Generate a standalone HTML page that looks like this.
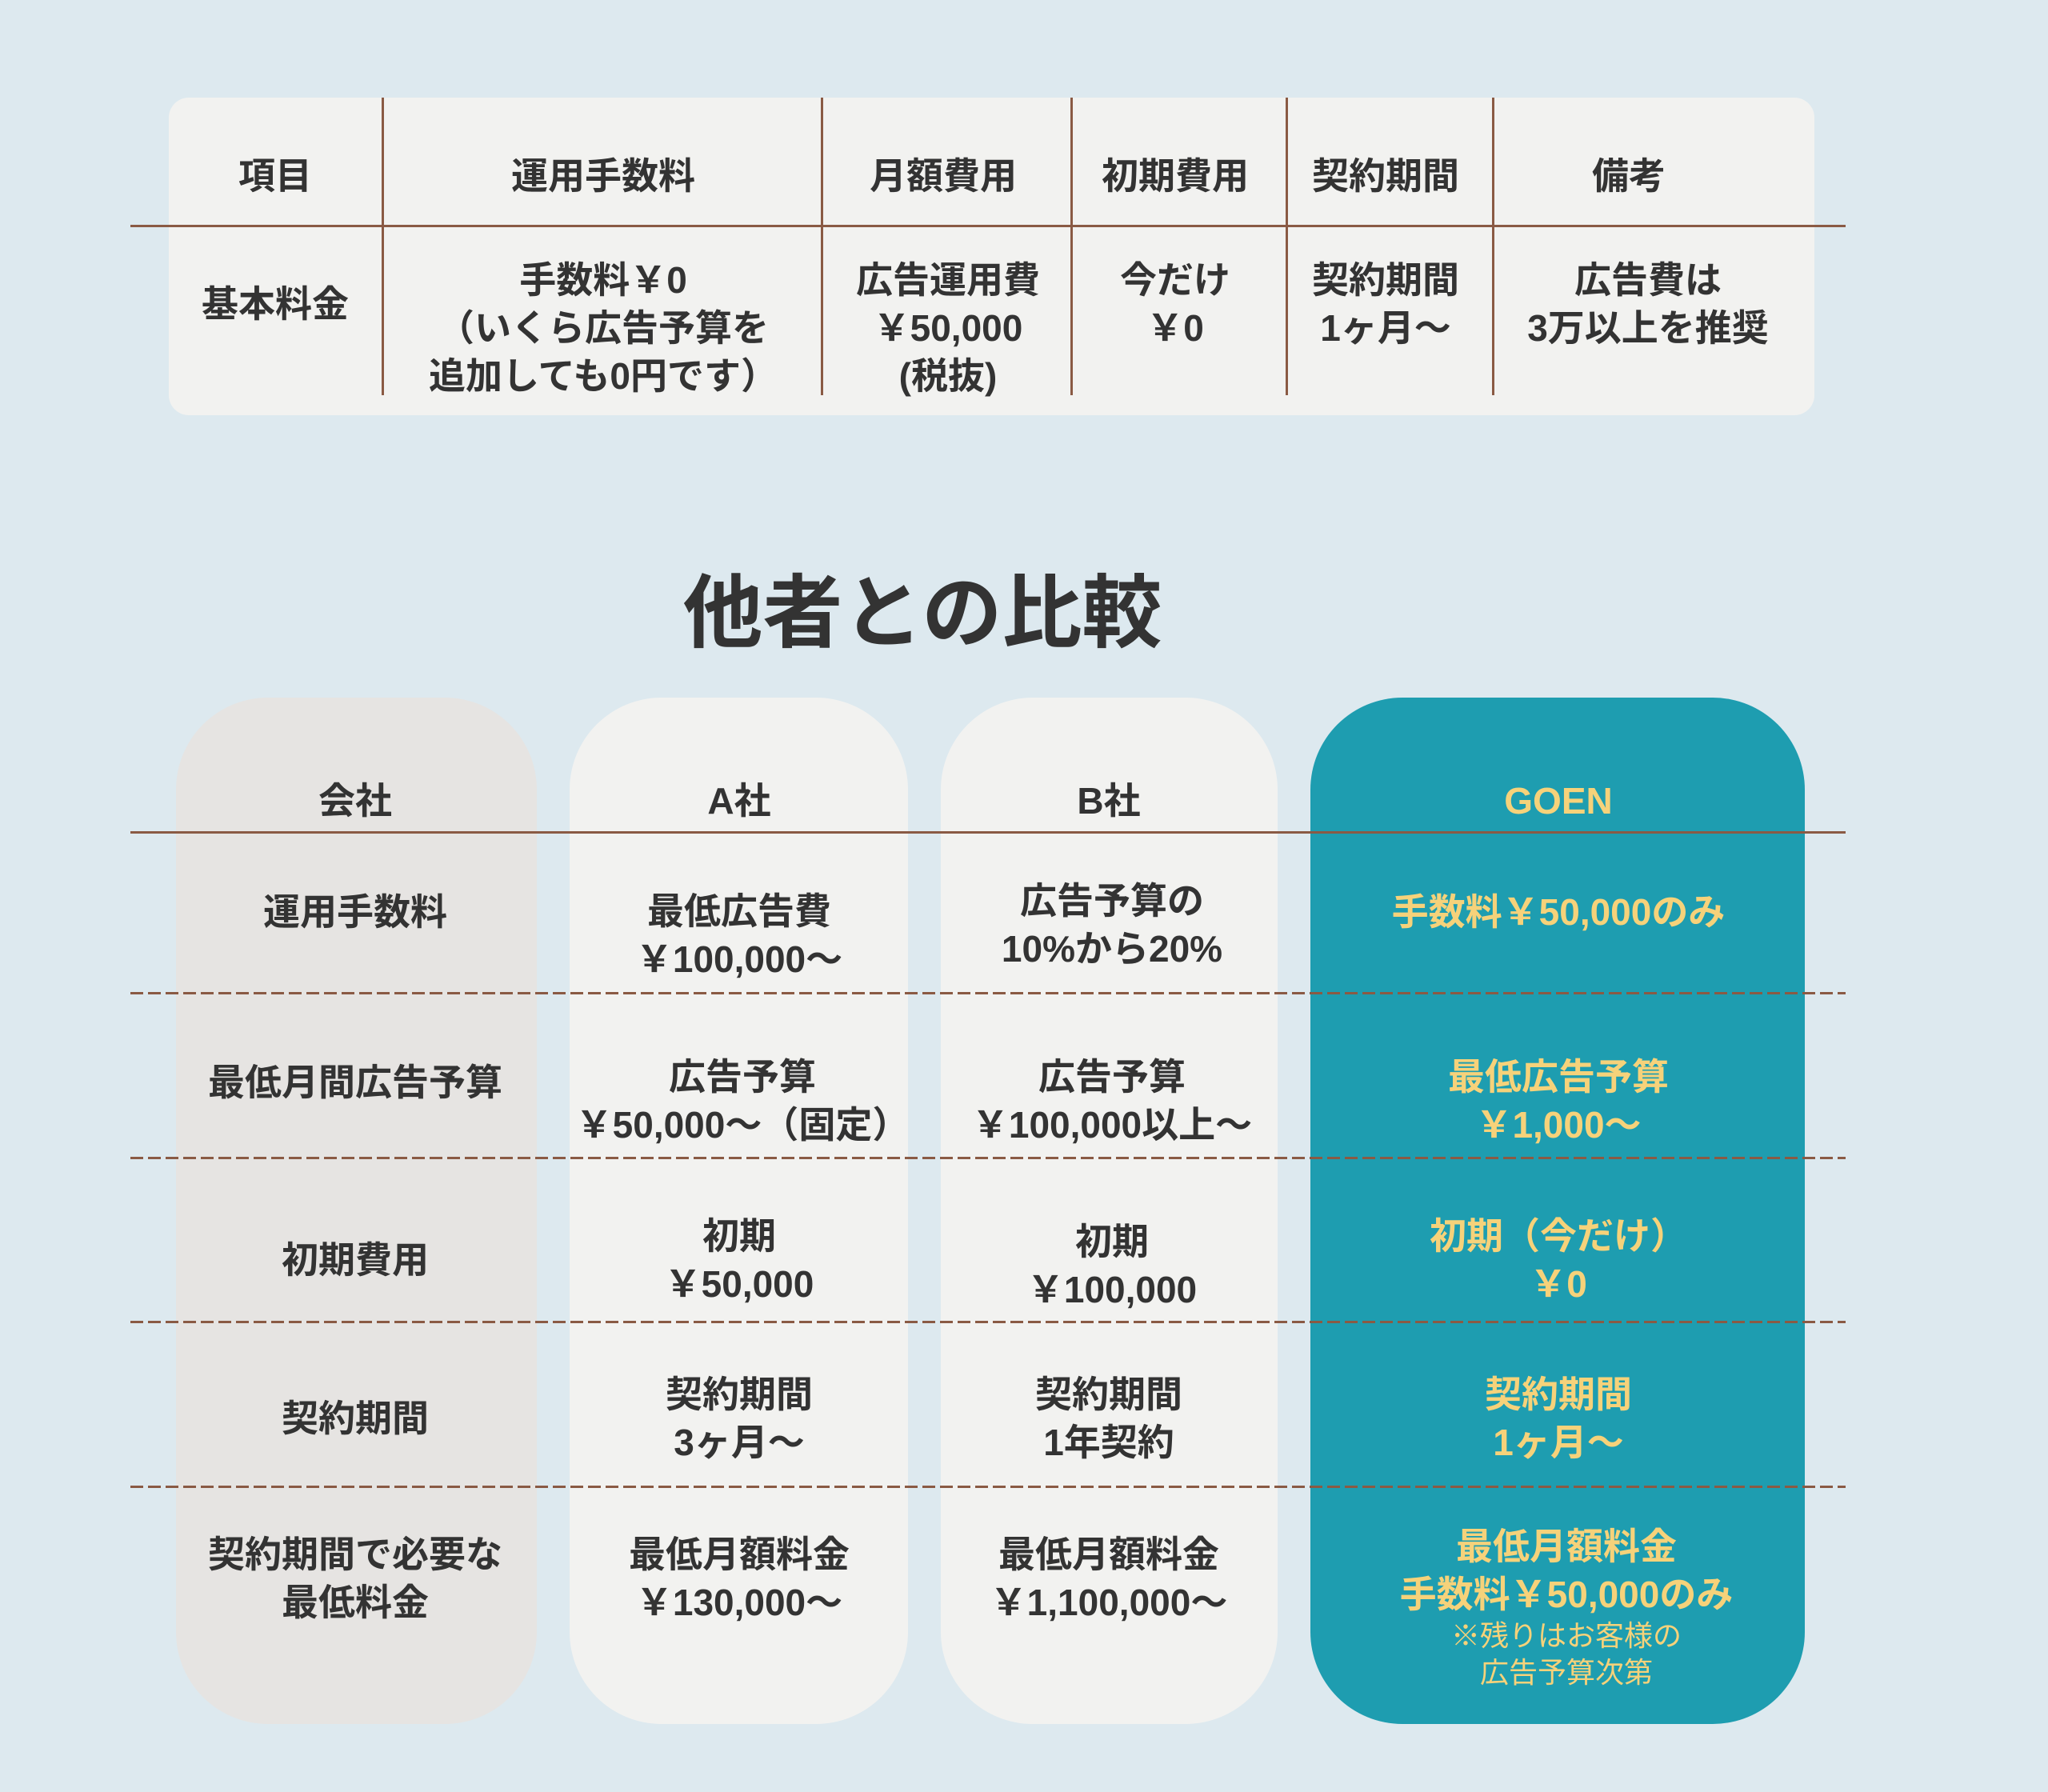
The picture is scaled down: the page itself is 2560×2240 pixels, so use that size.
<!DOCTYPE html>
<html><head><meta charset="utf-8"><style>
html,body{margin:0;padding:0}
body{width:2560px;height:2240px;background:#dde9ef;position:relative;overflow:hidden;font-family:"Liberation Sans","Noto Sans CJK JP",sans-serif;font-weight:bold;color:#333}
.a{position:absolute}
.t{position:absolute;transform:translate(-50%,-50%);text-align:center;white-space:nowrap;font-size:46px;line-height:60px}
.vl{position:absolute;width:3px;background:#8a5a44;top:122px;height:372px}
.dl{position:absolute;left:163px;width:2144px;height:3px;background:repeating-linear-gradient(90deg,#8a5a44 0 16px,transparent 16px 22px)}
.y{color:#f6d27a}
</style></head><body>
<div class="a" style="left:211px;top:122px;width:2057px;height:397px;background:#f2f2f0;border-radius:25px"></div>
<div class="a" style="left:163px;top:281px;width:2144px;height:3px;background:#8a5a44"></div>
<div class="vl" style="left:477px"></div><div class="vl" style="left:1026px"></div><div class="vl" style="left:1338px"></div><div class="vl" style="left:1607px"></div><div class="vl" style="left:1865px"></div>
<div class="t" style="left:344px;top:220px">項目</div>
<div class="t" style="left:754px;top:220px">運用手数料</div>
<div class="t" style="left:1179px;top:220px">月額費用</div>
<div class="t" style="left:1469px;top:220px">初期費用</div>
<div class="t" style="left:1732px;top:220px">契約期間</div>
<div class="t" style="left:2036px;top:220px">備考</div>
<div class="t" style="left:344px;top:380px">基本料金</div>
<div class="t" style="left:754px;top:410px">手数料￥0<br>（いくら広告予算を<br>追加しても0円です）</div>
<div class="t" style="left:1185px;top:410px">広告運用費<br>￥50,000<br>(税抜)</div>
<div class="t" style="left:1469px;top:380px">今だけ<br>￥0</div>
<div class="t" style="left:1732px;top:380px">契約期間<br>1ヶ月～</div>
<div class="t" style="left:2060px;top:380px">広告費は<br>3万以上を推奨</div>

<div class="t" style="left:1153px;top:767px;font-size:100px;line-height:120px">他者との比較</div>

<div class="a" style="left:220px;top:872px;width:451px;height:1283px;background:#e6e4e2;border-radius:115px"></div>
<div class="a" style="left:712px;top:872px;width:423px;height:1283px;background:#f2f2f0;border-radius:115px"></div>
<div class="a" style="left:1176px;top:872px;width:421px;height:1283px;background:#f2f2f0;border-radius:115px"></div>
<div class="a" style="left:1638px;top:872px;width:618px;height:1283px;background:#1e9db0;border-radius:115px"></div>
<div class="a" style="left:163px;top:1039px;width:2144px;height:3px;background:#8a5a44"></div>
<div class="dl" style="top:1240px"></div><div class="dl" style="top:1446px"></div><div class="dl" style="top:1651px"></div><div class="dl" style="top:1857px"></div>

<div class="t" style="left:444px;top:1001px">会社</div>
<div class="t" style="left:924px;top:1001px">A社</div>
<div class="t" style="left:1386px;top:1001px">B社</div>
<div class="t y" style="left:1948px;top:1001px">GOEN</div>

<div class="t" style="left:444px;top:1140px">運用手数料</div>
<div class="t" style="left:924px;top:1169px">最低広告費<br>￥100,000～</div>
<div class="t" style="left:1390px;top:1156px">広告予算の<br>10%から20%</div>
<div class="t y" style="left:1948px;top:1140px">手数料￥50,000のみ</div>

<div class="t" style="left:444px;top:1353px">最低月間広告予算</div>
<div class="t" style="left:928px;top:1376px">広告予算<br>￥50,000～（固定）</div>
<div class="t" style="left:1390px;top:1376px">広告予算<br>￥100,000以上～</div>
<div class="t y" style="left:1948px;top:1376px">最低広告予算<br>￥1,000～</div>

<div class="t" style="left:444px;top:1575px">初期費用</div>
<div class="t" style="left:924px;top:1575px">初期<br>￥50,000</div>
<div class="t" style="left:1390px;top:1582px">初期<br>￥100,000</div>
<div class="t y" style="left:1948px;top:1575px">初期（今だけ）<br>￥0</div>

<div class="t" style="left:444px;top:1773px">契約期間</div>
<div class="t" style="left:924px;top:1773px">契約期間<br>3ヶ月～</div>
<div class="t" style="left:1386px;top:1773px">契約期間<br>1年契約</div>
<div class="t y" style="left:1948px;top:1773px">契約期間<br>1ヶ月～</div>

<div class="t" style="left:444px;top:1973px">契約期間で必要な<br>最低料金</div>
<div class="t" style="left:924px;top:1973px">最低月額料金<br>￥130,000～</div>
<div class="t" style="left:1386px;top:1973px">最低月額料金<br>￥1,100,000～</div>
<div class="t y" style="left:1958px;top:1963px">最低月額料金<br>手数料￥50,000のみ</div>
<div class="t y" style="left:1958px;top:2068px;font-size:36px;line-height:46px;font-weight:normal">※残りはお客様の<br>広告予算次第</div>
</body></html>
